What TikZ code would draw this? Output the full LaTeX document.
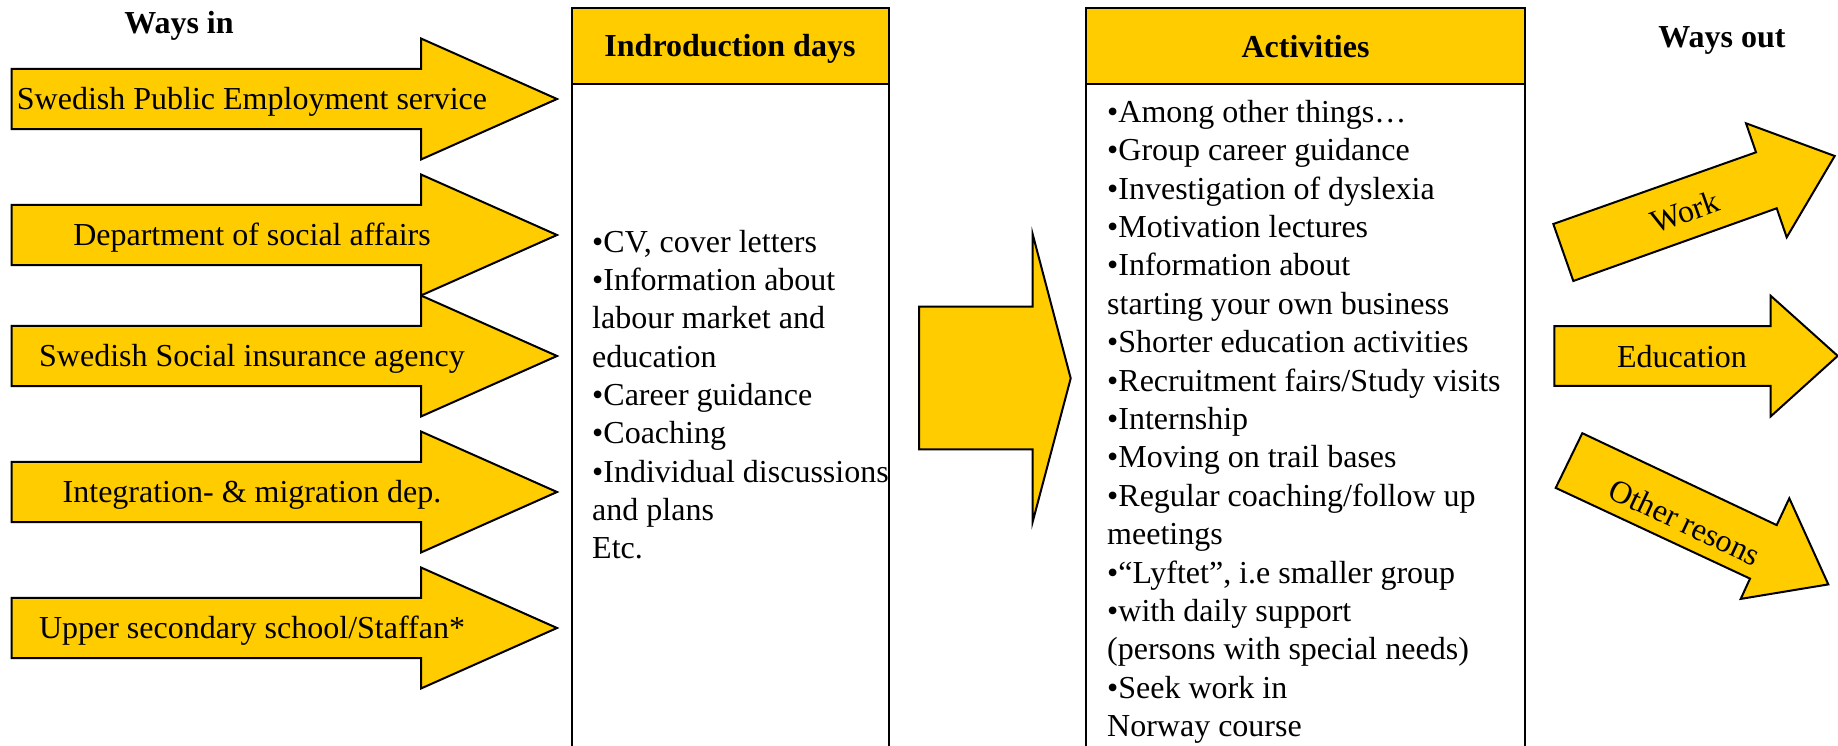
\documentclass[tikz,border=0pt]{standalone}
\usepackage{fontspec}
\setmainfont{Liberation Serif}
\definecolor{gold}{HTML}{FFCC00}
\begin{document}
\begin{tikzpicture}[x=1pt,y=-1pt,line join=miter,
  shapefill/.style={draw=black,fill=gold,line width=2pt},
  boxline/.style={draw=black,line width=2pt},
  txt/.style={font=\fontsize{32}{38.3}\selectfont,inner sep=0pt},
  btxt/.style={font=\fontsize{32}{38.3}\selectfont\bfseries,inner sep=0pt},
  listtxt/.style={txt,align=left,anchor=north west}]
\useasboundingbox (0,0) rectangle (1838,746);

% titles
\node[btxt,anchor=base] (waysin) at (179,33.5) {Ways in};
\node[btxt,anchor=base] (waysout) at (1722,48) {Ways out};

% left arrows
\foreach \c/\t [count=\i] in {99/{Swedish Public Employment service},235/{Department of social affairs},356/{Swedish Social insurance agency},492/{Integration- \& migration dep.},628/{Upper secondary school/Staffan*}}{
  \draw[shapefill] (11.5,{\c-30.2}) -- (421,{\c-30.2}) -- (421,{\c-60.5}) -- (557,\c) -- (421,{\c+60.5}) -- (421,{\c+30.2}) -- (11.5,{\c+30.2}) -- cycle;
  \node[txt,anchor=base] (in\i) at (252,{\c+10.5}) {\t};
}

% introduction box
\fill[gold] (571.5,8) rectangle (889,84);
\draw[boxline] (571.5,760) -- (571.5,8) -- (889,8) -- (889,760);
\draw[boxline] (571.5,84) -- (889,84);
\node[btxt,anchor=base] (introhead) at (730,57) {Indroduction days};
\node[listtxt] (introlist) at (592,222) {\rule{0pt}{30pt}•CV, cover letters\\•Information about\\labour market and\\education\\•Career guidance\\•Coaching\\•Individual discussions\\and plans\\Etc.};

% middle arrow
\draw[shapefill] (919,306.7) -- (1032.7,306.7) -- (1032.7,234.3) -- (1070.7,378.3) -- (1032.7,521.7) -- (1032.7,449.3) -- (919,449.3) -- cycle;

% activities box
\fill[gold] (1086,8.5) rectangle (1525,84);
\draw[boxline] (1086,760) -- (1086,8.5) -- (1525,8.5) -- (1525,760);
\draw[boxline] (1086,84) -- (1525,84);
\node[btxt,anchor=base] (acthead) at (1305.5,57.5) {Activities};
\node[listtxt,font=\fontsize{32}{38.4}\selectfont] (actlist) at (1107,92) {\rule{0pt}{30pt}•Among other things…\\•Group career guidance\\•Investigation of dyslexia\\•Motivation lectures\\•Information about\\starting your own business\\•Shorter education activities\\•Recruitment fairs/Study visits\\•Internship\\•Moving on trail bases\\•Regular coaching/follow up\\meetings\\•“Lyftet”, i.e smaller group\\•with daily support\\(persons with special needs)\\•Seek work in\\Norway course};

% right arrows
\draw[shapefill] (1553.3,224) -- (1756,152.3) -- (1746,123.3) -- (1834.7,156) -- (1786.7,237.3) -- (1776.7,208.3) -- (1573.3,281) -- cycle;
\node[txt,rotate=19.5] (work) at (1685,212) {Work};

\draw[shapefill] (1554.3,326) -- (1770.7,326) -- (1770.7,295.8) -- (1837.7,355.9) -- (1770.7,416.4) -- (1770.7,385.8) -- (1554.3,385.8) -- cycle;
\node[txt,anchor=base] (educ) at (1682,367) {Education};

\draw[shapefill] (1582.3,433.2) -- (1776.7,525.1) -- (1789.3,498.3) -- (1828.3,584.4) -- (1740.7,598.9) -- (1750,578.6) -- (1555.7,487.9) -- cycle;
\node[txt,rotate=-25.3] (other) at (1685,522) {Other resons};
\end{tikzpicture}
\end{document}
